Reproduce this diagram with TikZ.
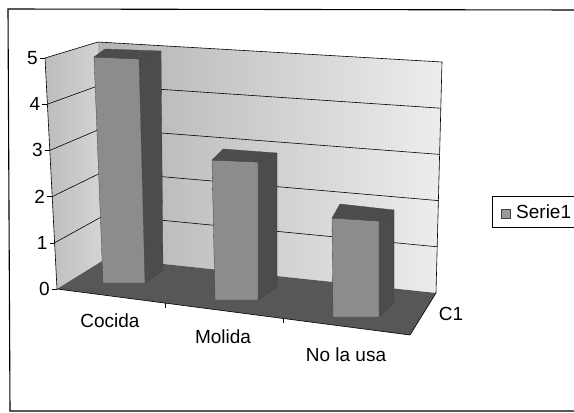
\documentclass[tikz,border=0pt]{standalone}
\usepackage{fontspec}
\setmainfont{Liberation Sans}
\usetikzlibrary{calc}

\tikzset{
	lbl/.style={font=\fontsize{19}{22}\selectfont, inner sep=0pt},
	wall/.style={draw=black, line width=0.6pt},
	face/.style={draw=black!75, line width=0.3pt},
	frontface/.style={face, fill=black!45},
	darkface/.style={face, fill=black!70},
}

\begin{document}
\begin{tikzpicture}[x=1pt, y=-1pt]
	\useasboundingbox (0,0) rectangle (574,413);
	% outer frame, open to the right
	\coordinate (frameTR) at (582,10);
	\coordinate (frameTL) at (8,9);
	\coordinate (frameBL) at (10,411);
	\coordinate (frameBR) at (582,411);
	\draw[line width=1.1pt] (frameTR) -- (frameTL) -- (frameBL) -- (frameBR);

	% corners of walls and floor
	\coordinate (F0) at (57,289);
	\coordinate (F5) at (45,58);
	\coordinate (L0) at (107,258);
	\coordinate (L5) at (98,42);
	\coordinate (R0) at (436,293);
	\coordinate (R5) at (442,62);
	\coordinate (G) at (410,335);

	\shade[left color=black!26, right color=black!16] (F0) -- (F5) -- (L5) -- (L0) -- cycle;
	\shade[left color=black!30, right color=black!7] (L0) -- (L5) -- (R5) -- (R0) -- cycle;
	\draw[wall] (F5) -- (L5) -- (R5) -- (R0);
	\foreach \k in {1,...,4}
		\draw[wall] ($(F0)!\k/5!(F5)$) -- ($(L0)!\k/5!(L5)$) -- ($(R0)!\k/5!(R5)$);

	\fill[black!66] (F0) -- (L0) -- (R0) -- (G) -- cycle;
	\draw[wall] (F0) -- (G) -- (R0);

	% bars
	\draw[darkface] (139,59) -- (161,51) -- (163,270) -- (145,283) -- cycle;
	\draw[frontface] (94,57) -- (139,59) -- (145,283) -- (103,283) -- cycle;
	\draw[darkface] (94,57) -- (105,49) -- (161,51) -- (139,59) -- cycle;

	\draw[darkface] (258,162) -- (277,153) -- (277,287) -- (258,300) -- cycle;
	\draw[frontface] (212,160) -- (258,162) -- (258,300) -- (215,300) -- cycle;
	\draw[darkface] (212,160) -- (223,149) -- (277,153) -- (258,162) -- cycle;

	\draw[darkface] (379,221) -- (394,210) -- (394,303) -- (379,317) -- cycle;
	\draw[frontface] (332,218) -- (379,221) -- (379,317) -- (333,317) -- cycle;
	\draw[darkface] (332,218) -- (340,204) -- (394,210) -- (379,221) -- cycle;

	% value axis
	\draw[wall] (F0) -- (F5);
	\foreach \k in {0,...,5} {
		\coordinate (t\k) at ($(F0)!\k/5!(F5)$);
		\draw[wall] (t\k) -- ++(-5,0);
		\node[lbl, anchor=east] (v\k) at ($(t\k)+(-7,0)$) {\k};
	}

	% category axis
	\foreach \f in {0.306,0.64}
		\draw[wall] ($(F0)!\f!(G)$) -- ++(0,5);
	\node[lbl] (cocida) at (110,321) {Cocida};
	\node[lbl] (molida) at (223,337) {Molida};
	\node[lbl] (nousa) at (346,355) {No la usa};
	\node[lbl] (serie) at (451,314) {C1};

	% legend
	\coordinate (legTL) at (492,196);
	\coordinate (legBR) at (582,227);
	\draw[line width=0.5pt] (legTL) rectangle (legBR);
	\draw[face, fill=black!40] (501,209) rectangle (510,218);
	\node[lbl, anchor=west] (serie1) at (516,212) {Serie1};
\end{tikzpicture}
\end{document}
